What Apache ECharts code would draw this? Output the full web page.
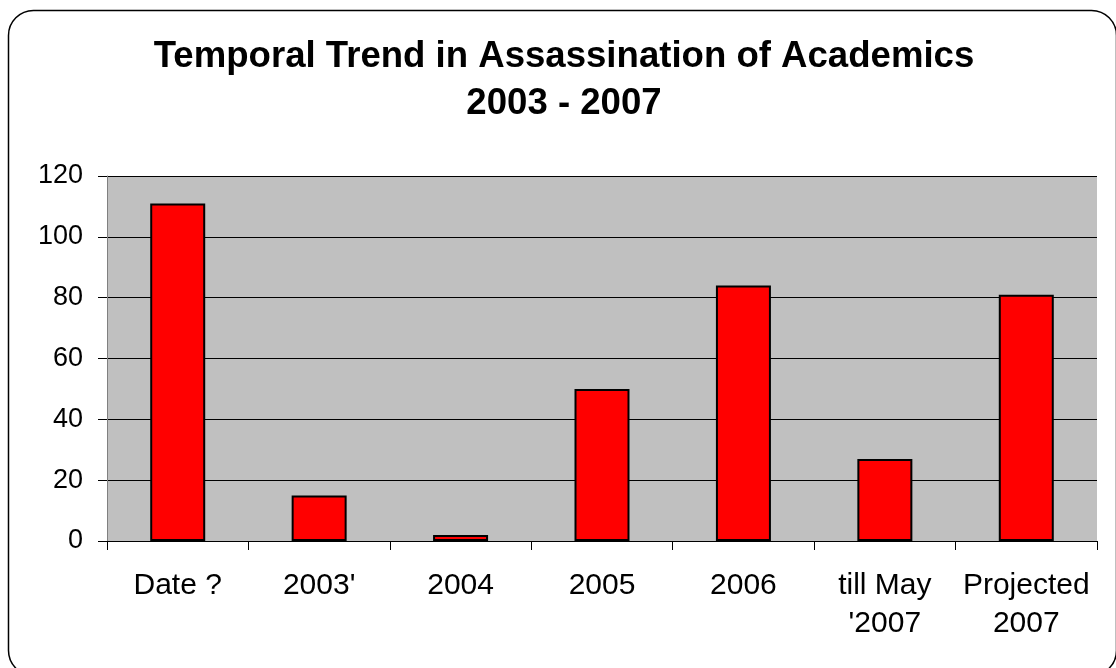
<!DOCTYPE html>
<html>
<head>
<meta charset="utf-8">
<script src="https://cdn.jsdelivr.net/npm/echarts@6/dist/echarts.min.js"></script>
<style>
html,body{margin:0;padding:0;background:#fff;}
#chart{width:1116px;height:668px;}
</style>
</head>
<body>
<div id="chart"></div>
<script>
var categories = ["Date ?", "2003'", "2004", "2005", "2006", "till May\n'2007", "Projected\n2007"];
var values = [111, 15, 2, 50, 84, 27, 81];
var yTicks = { min: 0, max: 120, interval: 20 };
var titleLines = ["Temporal Trend in Assassination of Academics", "2003 - 2007"];

var chart = echarts.init(document.getElementById('chart'), null, { renderer: 'canvas' });
var font = '"Liberation Sans", Arial, Helvetica, sans-serif';
chart.setOption({
  backgroundColor: '#ffffff',
  animation: false,
  graphic: [
    { type: 'rect', shape: { x: 8.5, y: 10.5, width: 1108, height: 665, r: 25 },
      style: { fill: 'none', stroke: '#000', lineWidth: 1.5 }, z: 100, silent: true },
    { type: 'text', x: 564, y: 57, style: { text: titleLines[0], font: 'bold 36.6px ' + font, fill: '#000', align: 'center', verticalAlign: 'middle' } },
    { type: 'text', x: 564, y: 104, style: { text: titleLines[1], font: 'bold 36.6px ' + font, fill: '#000', align: 'center', verticalAlign: 'middle' } }
  ],
  grid: { left: 107, right: 19, top: 176, bottom: 127, show: true, backgroundColor: '#C0C0C0', borderWidth: 0, containLabel: false },
  xAxis: {
    type: 'category',
    data: categories,
    boundaryGap: true,
    axisLine: { show: true, lineStyle: { color: '#000', width: 1 } },
    axisTick: { show: true, length: 9, alignWithLabel: false, lineStyle: { color: '#000' } },
    axisLabel: { color: '#000', fontFamily: font, fontSize: 30, lineHeight: 38, margin: 26, interval: 0 },
    splitLine: { show: false }
  },
  yAxis: {
    type: 'value',
    min: yTicks.min, max: yTicks.max, interval: yTicks.interval,
    axisLine: { show: true, lineStyle: { color: '#808080', width: 1 } },
    axisTick: { show: true, length: 9, lineStyle: { color: '#000' } },
    axisLabel: { color: '#000', fontFamily: font, fontSize: 27, margin: 24 },
    splitLine: { show: true, lineStyle: { color: '#000', width: 1 } }
  },
  series: [{
    type: 'bar',
    data: values,
    barWidth: 55,
    itemStyle: { color: '#FF0000', borderColor: '#000', borderWidth: 2 }
  }]
});
</script>
</body>
</html>
